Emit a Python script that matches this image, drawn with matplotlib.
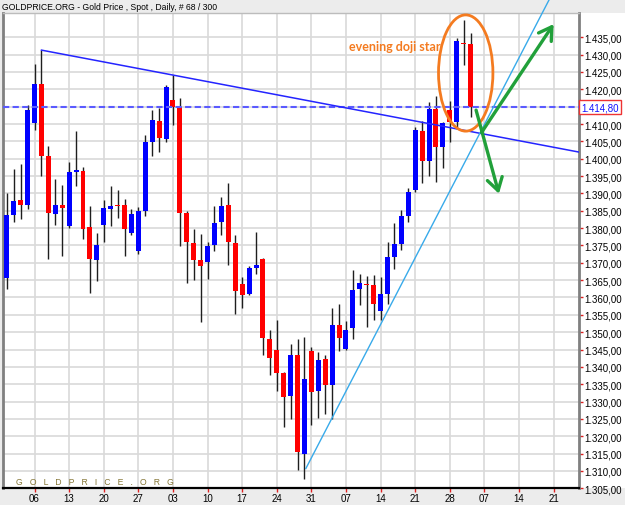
import numpy as np
import matplotlib
matplotlib.use("Agg")
import matplotlib.pyplot as plt
from matplotlib.patches import Ellipse, Rectangle

# daily candles (68 bars)
opens = [1365.6, 1383.9, 1388.1, 1386.8, 1410.2, 1421.5, 1400.9, 1384.1, 1386.7, 1380.6,
         1396.3, 1396.4, 1380.3, 1370.7, 1380.9, 1385.5, 1386.8, 1386.8, 1378.6, 1373.3,
         1384.9, 1404.9, 1411.0, 1405.7, 1416.9, 1414.8, 1384.4, 1375.8, 1370.7, 1370.2,
         1375.0, 1381.9, 1386.8, 1375.8, 1364.0, 1361.1, 1368.5, 1371.2, 1348.1, 1345.0,
         1338.1, 1331.5, 1343.5, 1314.8, 1344.5, 1333.0, 1342.4, 1334.9, 1352.2, 1345.1,
         1351.2, 1362.5, 1364.0, 1363.5, 1356.0, 1361.1, 1371.7, 1375.5, 1383.6, 1391.1,
         1408.1, 1399.4, 1414.3, 1403.3, 1413.9, 1410.5, 1433.3, 1433.0]
highs = [1390.1, 1397.1, 1398.4, 1415.6, 1427.2, 1431.3, 1403.8, 1394.2, 1392.3, 1399.0,
         1407.9, 1397.5, 1386.5, 1378.6, 1388.1, 1392.1, 1391.0, 1388.4, 1385.5, 1386.0,
         1406.8, 1414.1, 1414.5, 1421.2, 1424.1, 1417.4, 1384.9, 1379.8, 1378.4, 1376.1,
         1386.5, 1388.9, 1392.9, 1378.1, 1365.9, 1369.2, 1378.8, 1371.5, 1350.5, 1353.4,
         1338.6, 1346.7, 1348.1, 1348.6, 1345.6, 1344.3, 1343.5, 1357.0, 1358.2, 1353.2,
         1367.8, 1366.8, 1366.1, 1366.6, 1365.9, 1376.0, 1381.5, 1385.1, 1391.6, 1409.1,
         1410.8, 1416.4, 1418.0, 1410.7, 1416.5, 1434.9, 1439.9, 1436.2]
lows = [1362.5, 1381.9, 1382.7, 1385.5, 1408.3, 1395.1, 1371.0, 1380.9, 1371.9, 1380.1,
        1392.0, 1376.9, 1361.3, 1364.7, 1376.1, 1380.7, 1383.0, 1372.1, 1378.1, 1372.6,
        1383.6, 1400.9, 1401.9, 1404.7, 1409.7, 1374.8, 1364.3, 1364.9, 1352.9, 1365.2,
        1373.3, 1377.9, 1369.5, 1355.1, 1357.1, 1360.6, 1366.8, 1343.3, 1337.8, 1333.0,
        1322.7, 1324.9, 1310.3, 1307.7, 1323.2, 1325.3, 1326.4, 1324.9, 1344.5, 1344.8,
        1348.1, 1357.9, 1351.5, 1353.4, 1353.4, 1358.0, 1368.3, 1373.8, 1381.7, 1390.4,
        1393.0, 1395.0, 1393.3, 1397.3, 1404.7, 1409.1, 1427.0, 1411.9]
closes = [1383.9, 1387.8, 1386.8, 1414.1, 1421.5, 1400.9, 1384.3, 1386.7, 1385.7, 1396.1,
          1396.8, 1379.8, 1371.0, 1375.0, 1385.7, 1386.3, 1386.5, 1379.8, 1384.1, 1384.9,
          1404.7, 1411.2, 1405.9, 1420.7, 1414.8, 1384.3, 1376.1, 1370.7, 1369.2, 1374.8,
          1381.5, 1386.5, 1376.0, 1362.0, 1360.6, 1368.5, 1369.5, 1348.3, 1342.7, 1338.1,
          1331.2, 1343.5, 1315.4, 1336.6, 1332.8, 1341.9, 1334.9, 1352.0, 1348.4, 1350.7,
          1362.3, 1364.3, 1363.6, 1358.2, 1360.9, 1371.7, 1375.5, 1383.6, 1390.4, 1408.4,
          1399.4, 1414.3, 1403.3, 1410.3, 1410.5, 1434.0, 1433.0, 1414.8]

# weekly (monday) date labels, Dec .. Mar
week_pos = [4, 9, 14, 19, 24, 29, 34, 39, 44, 49, 54, 59, 64, 69, 74, 79]
week_labels = ['06', '13', '20', '27', '03', '10', '17', '24', '31',
               '07', '14', '21', '28', '07', '14', '21']

last_price = 1414.80
down_line_x = [5, 82.7]
down_line_y = [1431.3, 1401.9]
up_line_x = [43.2, 78.4]
up_line_y = [1310.7, 1446.0]

W, H = 625, 506
plt.rcParams['font.family'] = ['Liberation Sans', 'DejaVu Sans']
fig = plt.figure(figsize=(W / 100, H / 100), dpi=100, facecolor='#ececec')
fig.patches.append(Rectangle((579 / W, (H - 489) / H), 46 / W, 475 / H,
                             transform=fig.transFigure, facecolor='white',
                             edgecolor='none', zorder=-5))
ax = fig.add_axes([3 / W, (H - 489.3) / H, 576 / W, 475.3 / H])
ax.set_facecolor('white')

o = np.array(opens)
c = np.array(closes)
x = np.arange(len(o))
cols = np.where(c >= o, '#0000ff', '#ff0000')
ax.vlines(x, lows, highs, color='#1e1e1e', lw=1, zorder=2)
ax.bar(x, np.abs(c - o), bottom=np.minimum(o, c), width=0.72, color=cols,
       linewidth=0, zorder=3)

ax.axhline(last_price, color='#5a5aff', lw=1.5, ls=(0, (3, 1.6)), zorder=4)
ax.plot(down_line_x, down_line_y, color='#2424ff', lw=1.1, zorder=4)
ax.plot(up_line_x, up_line_y, color='#38aaea', lw=1, zorder=4, clip_on=False)

ax.add_patch(Ellipse((66.3, 1424.7), 7.86, 33.5, fill=False,
                     edgecolor='#f47b20', lw=2, zorder=5))
ax.text(49.4, 1432.6, 'evening doji star', color='#f47b20', fontsize=9,
        fontweight='bold', family='Lato', va='center', ha='left', zorder=5)

arrow_kw = dict(arrowstyle='->,head_length=0.9,head_width=0.55',
                color='#21a03a', lw=2.4, shrinkA=0, shrinkB=0)
ax.annotate('', xy=(79.0, 1438.8), xytext=(68.6, 1407.6), arrowprops=arrow_kw,
            zorder=6)
ax.annotate('', xy=(71.1, 1389.9), xytext=(67.8, 1414.0), arrowprops=arrow_kw,
            zorder=6)

ax.set_xlim(-0.56, 82.67)
ax.set_ylim(1305, 1442)
ax.set_xticks(week_pos)
ax.set_xticklabels(week_labels)
yt = np.arange(1305, 1440, 5)
ax.set_yticks(yt)
# the 1.415 label sits under the last-price box, so it is left blank
ax.set_yticklabels(['' if v == 1415 else
                    f'{v:,.2f}'.replace(',', 'X').replace('.', ',').replace('X', '.')
                    for v in yt])
ax.yaxis.tick_right()
ax.tick_params(axis='both', colors='#dd2222', labelcolor='black', labelsize=7,
               length=3, width=1)
ax.tick_params(axis='y', pad=1)
ax.tick_params(axis='x', pad=0.5)
ax.grid(True, color='#d9d9d9', lw=1.2)
ax.set_axisbelow(True)

ax.spines['left'].set_color('#808080')
ax.spines['left'].set_linewidth(2)
ax.spines['right'].set_color('#808080')
ax.spines['right'].set_linewidth(2)
ax.spines['bottom'].set_color('black')
ax.spines['bottom'].set_linewidth(1.6)
ax.spines['top'].set_color('#bcbcbc')
ax.spines['top'].set_linewidth(1)

ax.text(1.004, last_price, '1.414,80', transform=ax.get_yaxis_transform(),
        color='#1010ff', fontsize=7, va='center', ha='left', zorder=7,
        bbox=dict(boxstyle='square,pad=0.2', facecolor='white',
                  edgecolor='#ee3333', lw=1), clip_on=False)

fig.text(2 / W, 1 - 7.5 / H, 'GOLDPRICE.ORG - Gold Price , Spot , Daily, # 68 / 300',
         fontsize=6.2, va='center', ha='left', color='black')
ax.text(12.5 / 576, 6.3 / 475.3, 'G   O   L   D   P   R   I   C   E   .   O   R   G',
        transform=ax.transAxes, fontsize=6.2, color='#857636', va='center',
        ha='left', zorder=6)

fig.savefig('out.png', dpi=100, facecolor=fig.get_facecolor())
